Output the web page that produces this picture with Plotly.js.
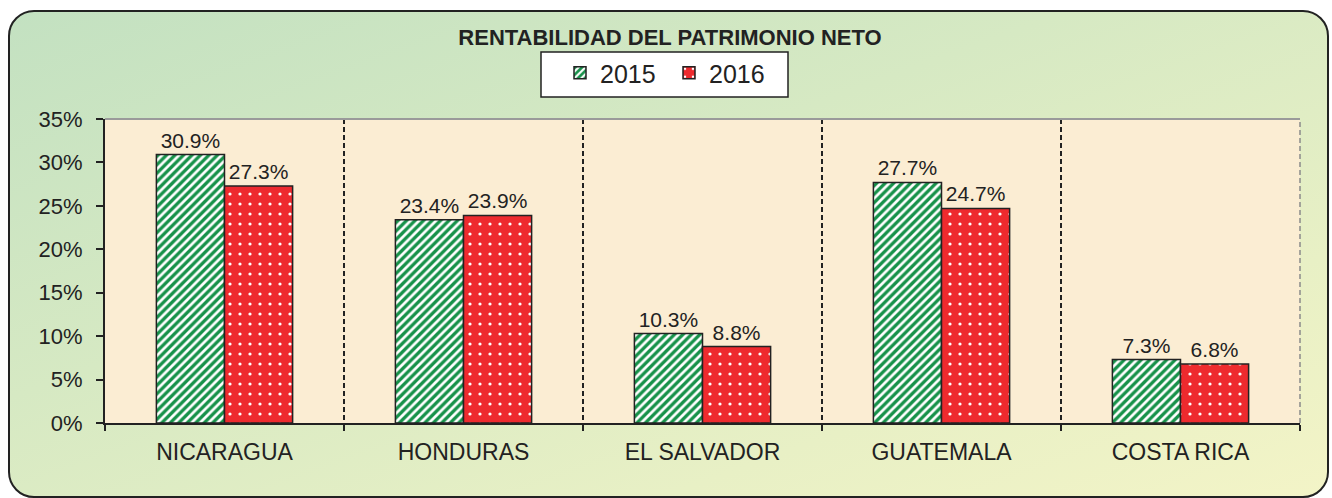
<!DOCTYPE html>
<html>
<head>
<meta charset="utf-8">
<script src="https://cdn.plot.ly/plotly-3.0.1.min.js"></script>
<style>
  html, body { margin: 0; padding: 0; width: 1332px; height: 498px; overflow: hidden; background: #ffffff; }
  #frame {
    position: absolute; left: 8px; top: 10px; width: 1317px; height: 484px;
    border: 2px solid #222; border-radius: 26px;
    background: linear-gradient(160deg, #c3e1c1 0%, #d6e9c3 40%, #e8f0c5 75%, #f3f4c7 100%);
  }
  #chart { position: absolute; left: 0; top: 0; width: 1332px; height: 498px; }
</style>
</head>
<body>
<div id="frame"></div>
<div id="chart"></div>
<script>
const categories = ["NICARAGUA", "HONDURAS", "EL SALVADOR", "GUATEMALA", "COSTA RICA"];
const values2015 = [30.9, 23.4, 10.3, 27.7, 7.3];
const values2016 = [27.3, 23.9, 8.8, 24.7, 6.8];
const seriesNames = ["2015", "2016"];
const yTickVals = [0, 5, 10, 15, 20, 25, 30, 35];
const yTickText = yTickVals.map(v => v + "%");

const FONT = "Liberation Sans, Arial, sans-serif";

const traces = [
  {
    type: "bar", name: seriesNames[0], x: categories, y: values2015,
    marker: {
      color: "#17924a",
      line: { color: "#222222", width: 1.5 },
      pattern: { shape: "/", bgcolor: "#17924a", fgcolor: "#ffffff", size: 6, solidity: 0.45, fillmode: "replace" }
    },
    texttemplate: "%{y:.1f}%", textposition: "outside", cliponaxis: false,
    textfont: { family: FONT, size: 21, color: "#222222" },
    hoverinfo: "x+y"
  },
  {
    type: "bar", name: seriesNames[1], x: categories, y: values2016,
    marker: {
      color: "#ee2a2e",
      line: { color: "#222222", width: 1.5 },
      pattern: { shape: ".", bgcolor: "#ee2a2e", fgcolor: "#ffffff", size: 10, solidity: 0.08, fillmode: "replace" }
    },
    texttemplate: "%{y:.1f}%", textposition: "outside", cliponaxis: false,
    textfont: { family: FONT, size: 21, color: "#222222" },
    hoverinfo: "x+y"
  }
];

// pixel helpers for the legend box (plot area: x 105..1300, y 119..423)
const px = v => (v - 105) / 1195;
const py = v => (423 - v) / 304;

const layout = {
  width: 1332, height: 498,
  margin: { l: 105, r: 32, t: 119, b: 75, pad: 0 },
  paper_bgcolor: "rgba(0,0,0,0)",
  plot_bgcolor: "#fbedd3",
  font: { family: FONT, size: 21, color: "#222222" },
  title: {
    text: "<b>RENTABILIDAD DEL PATRIMONIO NETO</b>",
    font: { family: FONT, size: 22, color: "#222222" },
    x: 670 / 1332, xref: "container", xanchor: "center",
    y: 1 - 37 / 498, yref: "container", yanchor: "middle"
  },
  showlegend: true,
  legend: {
    orientation: "h",
    x: 560 / 1332, xref: "container", xanchor: "left",
    y: 1 - 50 / 498, yref: "container", yanchor: "top",
    bgcolor: "rgba(0,0,0,0)", borderwidth: 0,
    font: { family: FONT, size: 25, color: "#222222" },
    itemwidth: 30, entrywidth: 64, traceorder: "normal"
  },
  barmode: "group",
  bargap: 0.43,
  bargroupgap: 0,
  xaxis: {
    type: "category",
    showline: true, linecolor: "#222222", linewidth: 2,
    ticks: "outside", tickson: "boundaries", ticklen: 6, tickwidth: 2, tickcolor: "#222222",
    showgrid: true, gridcolor: "#222222", gridwidth: 1.3, griddash: "5px,3px",
    tickfont: { family: FONT, size: 23, color: "#222222" },
    ticklabelstandoff: 7,
    zeroline: false, fixedrange: true
  },
  yaxis: {
    range: [0, 35], tickmode: "array", tickvals: yTickVals, ticktext: yTickText,
    showline: true, linecolor: "#222222", linewidth: 2,
    ticks: "outside", ticklen: 7, tickwidth: 2, tickcolor: "#222222",
    showgrid: false, zeroline: false,
    tickfont: { family: FONT, size: 22, color: "#222222" },
    ticklabelstandoff: 9, fixedrange: true
  },
  shapes: [
    { type: "line", xref: "paper", yref: "paper", x0: 0, x1: 1, y0: 1, y1: 1, line: { color: "#9a9a9a", width: 2 } },
    { type: "line", xref: "paper", yref: "paper", x0: 1, x1: 1, y0: 0, y1: 1, line: { color: "#8a8a8a", width: 1.5, dash: "5px,3px" } },
    { type: "rect", xref: "paper", yref: "paper", x0: px(541), x1: px(788), y0: py(97), y1: py(52),
      fillcolor: "#ffffff", line: { color: "#222222", width: 1.5 }, layer: "below" }
  ]
};

Plotly.newPlot("chart", traces, layout, { displayModeBar: false, staticPlot: true });
</script>
</body>
</html>
